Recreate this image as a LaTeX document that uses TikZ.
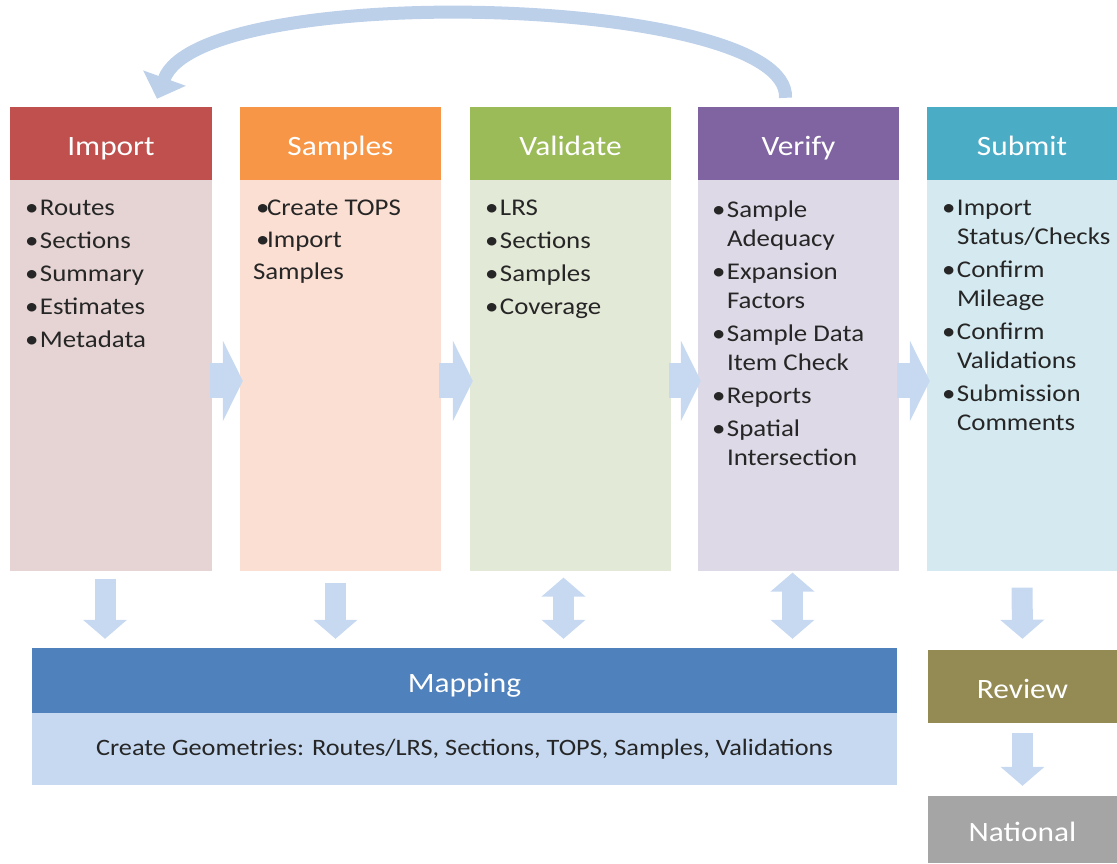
\documentclass[tikz,border=0pt]{standalone}
\usepackage{fontspec}
\setmainfont{Carlito}[FakeStretch=1.12]
\usepackage{xcolor}
\usepackage{tikz}
\usetikzlibrary{arrows.meta,positioning,calc}
\definecolor{impC}{HTML}{C0504D}
\definecolor{impL}{HTML}{E6D4D4}
\definecolor{samC}{HTML}{F79646}
\definecolor{samL}{HTML}{FBDFD3}
\definecolor{valC}{HTML}{9BBB59}
\definecolor{valL}{HTML}{E3E9D7}
\definecolor{verC}{HTML}{8064A2}
\definecolor{verL}{HTML}{DDD9E6}
\definecolor{subC}{HTML}{4BACC6}
\definecolor{subL}{HTML}{D5EAF0}
\definecolor{mapC}{HTML}{4F81BD}
\definecolor{mapL}{HTML}{C6D9F1}
\definecolor{revC}{HTML}{948A54}
\definecolor{natC}{HTML}{A5A5A5}
\definecolor{arrC}{HTML}{C6D9F1}
\definecolor{loopC}{HTML}{BCD0EA}
\definecolor{txtC}{HTML}{262626}
\tikzset{
  hdr/.style={fill=#1,text=white,minimum height=73pt,inner sep=0pt,text height=23pt,text depth=0pt,font=\fontsize{28}{32}\selectfont},
  panel/.style={fill=#1,minimum height=391pt,inner sep=0pt},
  itemtxt/.style={anchor=north west,inner sep=0pt,align=left,text=txtC,font=\fontsize{24}{29}\selectfont},
  flowarr/.style={-{Triangle[length=20pt,width=80pt]},line width=35pt,draw=arrC},
  downarr/.style={-{Triangle[length=19pt,width=43pt]},line width=21pt,draw=arrC},
  dblarr/.style={{Triangle[length=19pt,width=43pt]}-{Triangle[length=19pt,width=43pt]},line width=21pt,draw=arrC},
  backarr/.style={-{Triangle[length=22pt,width=44pt]},line width=13pt,draw=loopC},
}
\newcommand{\itm}{\makebox[15pt][l]{\textbullet}}
\newcommand{\cont}{\hspace*{15pt}}

\begin{document}
\begin{tikzpicture}[x=1pt,y=-1pt]
\useasboundingbox (0,0) rectangle (1117,863);
% columns
\node[hdr=impC,minimum width=202pt] (imph) at (111,143.5) {Import};
\node[panel=impL,minimum width=202pt,below=0pt of imph] (impb) {};
\node[hdr=samC,minimum width=201pt] (samh) at (340.5,143.5) {Samples};
\node[panel=samL,minimum width=201pt,below=0pt of samh] (samb) {};
\node[hdr=valC,minimum width=201pt] (valh) at (570.5,143.5) {Validate};
\node[panel=valL,minimum width=201pt,below=0pt of valh] (valb) {};
\node[hdr=verC,minimum width=201pt] (verh) at (798.5,143.5) {Verify};
\node[panel=verL,minimum width=201pt,below=0pt of verh] (verb) {};
\node[hdr=subC,minimum width=190pt] (subh) at (1022,143.5) {Submit};
\node[panel=subL,minimum width=190pt,below=0pt of subh] (subb) {};
% lists
\node[itemtxt] (impt) at ([xshift=15pt,yshift=-20pt]impb.north west)
  {\itm Routes\\[4pt]\itm Sections\\[4pt]\itm Summary\\[4pt]\itm Estimates\\[4pt]\itm Metadata};
\node[itemtxt] (samt) at ([xshift=13pt,yshift=-20pt]samb.north west)
  {\hspace*{3pt}\makebox[11pt][l]{\textbullet}Create TOPS\\[3pt]\hspace*{3pt}\makebox[11pt][l]{\textbullet}Import\\[3pt]Samples};
\node[itemtxt] (valt) at ([xshift=15pt,yshift=-20pt]valb.north west)
  {\itm LRS\\[4pt]\itm Sections\\[4pt]\itm Samples\\[4pt]\itm Coverage};
\node[itemtxt] (vert) at ([xshift=14pt,yshift=-20pt]verb.north west)
  {\itm Sample\\\cont Adequacy\\[4pt]\itm Expansion\\\cont Factors\\[4pt]\itm Sample Data\\\cont Item Check\\[4pt]\itm Reports\\[4pt]\itm Spatial\\\cont Intersection};
\node[itemtxt] (subt) at ([xshift=15pt,yshift=-20pt]subb.north west)
  {\itm Import\\\cont Status/Checks\\[4pt]\itm Confirm\\\cont Mileage\\[4pt]\itm Confirm\\\cont Validations\\[4pt]\itm Submission\\\cont Comments};
% bottom blocks
\node[hdr=mapC,minimum width=865pt,minimum height=65pt] (maph) at (464.5,680.5) {Mapping};
\node[panel=mapL,minimum width=865pt,minimum height=72pt,below=0pt of maph,text=txtC,font=\fontsize{23.5}{28}\selectfont] (mapb)
  {Create Geometries: Routes/LRS, Sections, TOPS, Samples, Validations};
\node[hdr=revC,minimum width=189pt] (rev) at (1022.5,686.5) {Review};
\node[hdr=natC,minimum width=189pt,minimum height=67pt] (nat) at (1022.5,829.5) {National};
% flow arrows
\draw[flowarr,shorten <=-2pt,shorten >=-3pt] ([yshift=-5pt]impb.east) -- ([yshift=-5pt]samb.west);
\draw[flowarr,shorten <=-2pt,shorten >=-3pt] ([yshift=-5pt]samb.east) -- ([yshift=-5pt]valb.west);
\draw[flowarr,shorten <=-2pt,shorten >=-3pt] ([yshift=-5pt]valb.east) -- ([yshift=-5pt]verb.west);
\draw[flowarr,shorten <=-2pt,shorten >=-3pt] ([yshift=-5pt]verb.east) -- ([yshift=-5pt]subb.west);
\draw[downarr,shorten >=9pt] ([xshift=-6pt,yshift=-7pt]impb.south) -- ([xshift=-6pt]impb.south |- maph.north);
\draw[downarr,shorten >=9pt] ([xshift=-5pt,yshift=-11pt]samb.south) -- ([xshift=-5pt]samb.south |- maph.north);
\draw[dblarr,shorten >=9pt] ([xshift=-7pt,yshift=-6pt]valb.south) -- ([xshift=-7pt]valb.south |- maph.north);
\draw[dblarr,shorten >=9pt] ([xshift=-6pt,yshift=-1pt]verb.south) -- ([xshift=-6pt]verb.south |- maph.north);
\draw[downarr,shorten <=16pt,shorten >=11pt] (subb.south) -- (rev.north);
\draw[downarr,shorten <=10pt,shorten >=10pt] (rev.south) -- (nat.north);
% loop back
\draw[backarr] ([xshift=-13pt,yshift=9pt]verh.north) .. controls +(5,-103) and +(43,-119) .. ([xshift=46pt,yshift=8pt]imph.north);
\end{tikzpicture}
\end{document}
